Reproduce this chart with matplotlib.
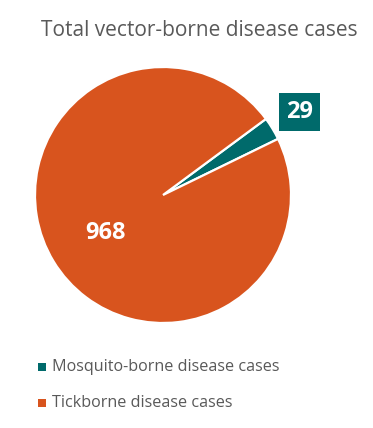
import numpy as np
import matplotlib.pyplot as plt

categories = ['Mosquito-borne disease cases', 'Tickborne disease cases']
cases = [29, 968]
colors = ['#006A6B', '#D8541E']

plt.rcParams['font.family'] = ['Open Sans', 'DejaVu Sans']

fig = plt.figure(figsize=(3.73, 4.28), dpi=100)
W, H = 373, 428

# pie axes: centre (163,195) px, radius 128 px
cx, cy, r = 163, 195, 128
ax = fig.add_axes([(cx - r) / W, (H - cy - r) / H, 2 * r / W, 2 * r / H])
wedges, _ = ax.pie(cases, colors=colors, startangle=26, counterclock=True,
                   wedgeprops=dict(edgecolor='white', linewidth=1.6))
ax.set_xlim(-1, 1)
ax.set_ylim(-1, 1)
ax.set_aspect('equal')
ax.axis('off')

# data labels
label_r = [1.25, 0.54]
for w, val, lr, col in zip(wedges, cases, label_r, colors):
    mid = np.deg2rad((w.theta1 + w.theta2) / 2)
    if lr < 1:
        mid += np.deg2rad(2)
    x, y = lr * np.cos(mid), lr * np.sin(mid)
    if lr > 1:
        ax.text(x, y, str(val), ha='center', va='center', color='white',
                fontsize=17, fontweight='bold', clip_on=False,
                bbox=dict(boxstyle='square,pad=0.3', facecolor=col, edgecolor='none'))
    else:
        ax.text(x, y, str(val), ha='center', va='center', color='white',
                fontsize=17, fontweight='bold')

fig.text(199 / W, 1 - 30 / H, 'Total vector-borne disease cases', ha='center', va='center',
         fontsize=15, color='#595959')

# legend
for i, (cat, col) in enumerate(zip(categories, colors)):
    yy = 1 - (367 + i * 36) / H
    fig.patches.append(plt.Rectangle((38 / W, yy - 4 / H), 8 / W, 8 / H, facecolor=col,
                                     transform=fig.transFigure, figure=fig))
    fig.text(52 / W, yy, cat, ha='left', va='center', fontsize=11.6, color='#595959')

fig.savefig('out.png', dpi=100)
